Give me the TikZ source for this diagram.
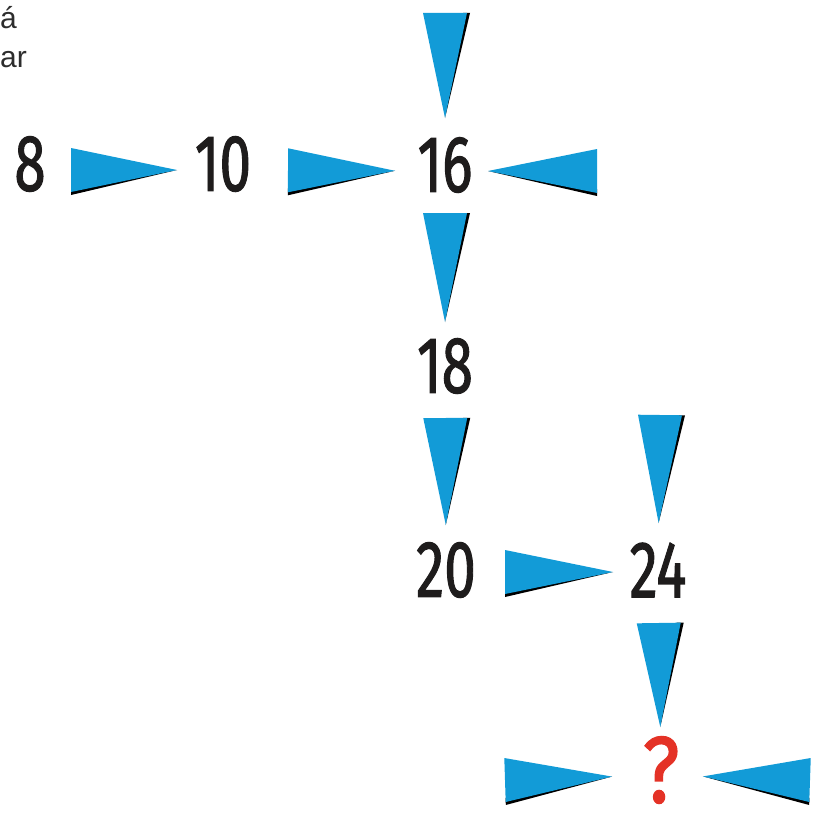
\documentclass[tikz,border=0pt]{standalone}
\usepackage{fontspec}
\setmainfont{Liberation Sans}
\newfontfamily\digitfont[FakeBold=1.6]{Fira Sans}
\usetikzlibrary{calc}

\definecolor{wedgeblue}{RGB}{18,155,215}
\definecolor{digitblack}{RGB}{30,28,28}
\definecolor{markred}{RGB}{228,50,38}
\definecolor{cuttext}{RGB}{45,45,45}

\tikzset{
  num/.style={inner sep=0pt,font=\digitfont\fontsize{80}{80}\selectfont,text=digitblack,xscale=0.71},
  qmark/.style={inner sep=0pt,font=\digitfont\fontsize{94}{94}\selectfont,text=markred,xscale=0.85},
  cuttxt/.style={inner sep=0pt,font=\fontsize{30}{36}\selectfont,text=cuttext,anchor=base west},
  wedgefill/.style={fill=wedgeblue},
  wedgeedge/.style={fill=black},
}

% [shift]{from}{to}{gap at from}{gap at to}{shadow side}
\newcommand{\wedgearrow}[6][0,0]{%
  \coordinate (wb) at ($(#2)!#4!(#3)+(#1)$);
  \coordinate (wt) at ($(#3)!#5!(#2)+(#1)$);
  \fill[wedgeedge] ($(wb)!25pt!#6:(wt)$) -- (wt) -- ($(wb)!18pt!#6:(wt)$) -- cycle;
  \fill[wedgefill] ($(wb)!22pt!90:(wt)$) -- (wt) -- ($(wb)!22pt!-90:(wt)$) -- cycle;
}

\begin{document}
\begin{tikzpicture}[x=1pt,y=-1pt]
  \useasboundingbox (0,0) rectangle (813,816);
  \clip (0,0) rectangle (813,816);

  \node[cuttxt] (line1) at (0,28.5) {á};
  \node[cuttxt] (line2) at (0,67) {ar};

  \node[num] (n8) at (30,164) {8};
  \node[num] (n10) at (223,164) {10};
  \node[num] (n16) at (445,165) {16};
  \node[num] (n18) at (445,366) {18};
  \node[num] (n20) at (446,570) {20};
  \node[num] (n24) at (658,570) {24};
  \node[qmark] (nq) at (661,770) {?};

  \coordinate (top16) at (445,13);
  \coordinate (right16) at (597,165);
  \coordinate (top24) at (660,415);
  \coordinate (leftq) at (505,775);
  \coordinate (rightq) at (810,775);

  \wedgearrow[0,6]{n8}{n10}{41pt}{46pt}{-90}
  \wedgearrow[0,6]{n10}{n16}{65pt}{50pt}{-90}
  \wedgearrow[0,6]{right16}{n16}{0pt}{43pt}{90}
  \wedgearrow{top16}{n16}{0pt}{47pt}{90}
  \wedgearrow{n16}{n18}{48pt}{44pt}{90}
  \wedgearrow{n18}{n20}{52pt}{45pt}{90}
  \wedgearrow[0,2]{n20}{n24}{59pt}{45pt}{-90}
  \wedgearrow{top24}{n24}{0pt}{47pt}{90}
  \wedgearrow[0,5]{n24}{nq}{48pt}{48pt}{90}
  \wedgearrow[0,5]{leftq}{nq}{0pt}{49pt}{-90}
  \wedgearrow[0,5]{rightq}{nq}{0pt}{42pt}{90}
\end{tikzpicture}
\end{document}
